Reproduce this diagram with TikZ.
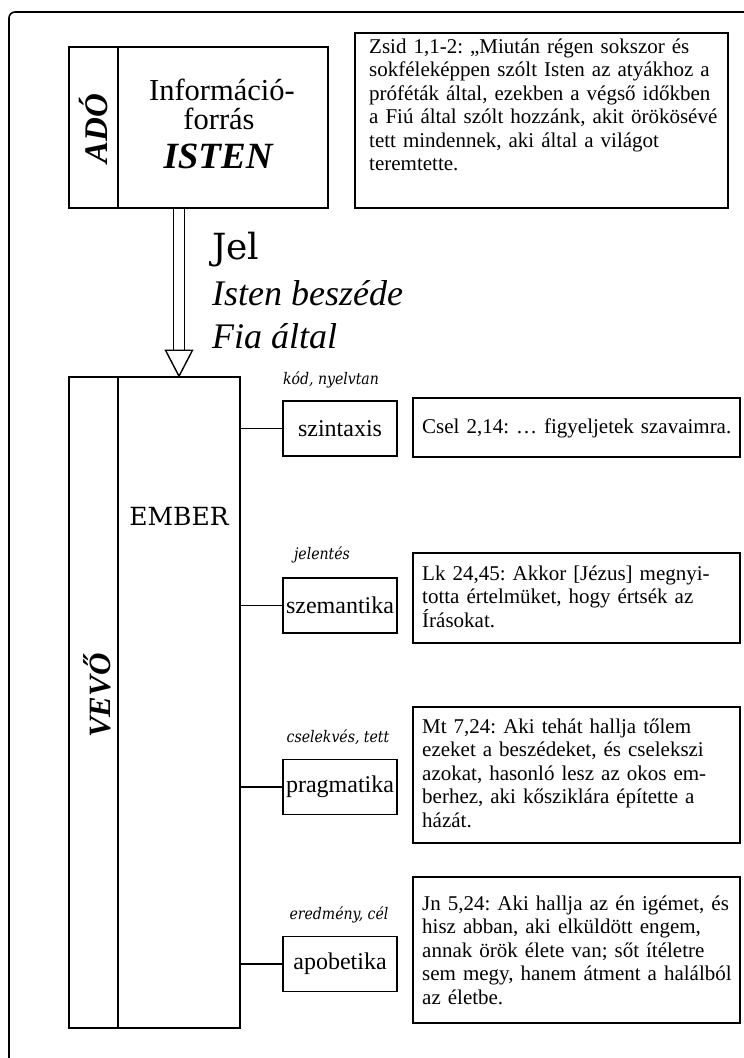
\documentclass[tikz,border=0pt]{standalone}
\usepackage{fontspec}
\setmainfont{Liberation Serif}
\newfontfamily\schoolfont{DejaVu Serif}
\newfontfamily\tagfont[FakeStretch=0.88]{DejaVu Serif}
\newcommand\qstrut{\rule{0pt}{16pt}}
\newcommand\fullline[1]{\makebox[305pt][s]{#1}}
\frenchspacing
\begin{document}
\frenchspacing
\begin{tikzpicture}[x=1pt,y=-1pt,
  box/.style={draw, line width=1.6pt, rectangle, inner sep=0pt},
  wire/.style={draw, line width=1.6pt},
  term/.style={box, minimum width=114pt, minimum height=55pt,
    font=\fontsize{24}{26}\selectfont},
  qtext/.style={anchor=north west, inner sep=0pt, align=left, text width=#1,
    font=\fontsize{21}{23.5}\selectfont},
  tag/.style={inner sep=0pt, font=\tagfont\itshape\fontsize{16}{18}\selectfont},
  side/.style={inner sep=0pt, rotate=90, font=\bfseries\itshape\fontsize{#1}{#1}\selectfont},
  big/.style={inner sep=0pt, anchor=base west, font=\fontsize{#1}{#1}\selectfont}
]
\useasboundingbox (0,0) rectangle (744,1058);

% page frame (top and left edges)
\draw[line width=1.6pt, rounded corners=6pt] (9,1058) -- (9,12) -- (744,12);

% sender block
\node[box, minimum width=49pt, minimum height=161pt] (adolbl) at (93.5,127.5) {};
\node[box, minimum width=210pt, minimum height=161pt] (adomain) at (223,127.5) {};
\node[side=33] (adotxt) at (94,128.5) {ADÓ};
\node[inner sep=0pt, anchor=base, font=\fontsize{30.5}{31}\selectfont] (info1) at (222,100) {Információ-};
\node[inner sep=0pt, anchor=base, font=\fontsize{30.5}{31}\selectfont] (info2) at (219,129) {forrás};
\node[inner sep=0pt, anchor=base, font=\bfseries\itshape\fontsize{37}{37}\selectfont] (isten) at (218,168) {ISTEN};

% quotation: Zsid
\node[box, minimum width=373pt, minimum height=175pt] (zsid) at (541.5,120.5) {};
\node[qtext=355pt] (zsidtxt) at (369,37) {\qstrut Zsid 1,1-2: „Miután régen sokszor és\\
sokféleképpen szólt Isten az atyákhoz a\\
próféták által, ezekben a végső időkben\\
a Fiú által szólt hozzánk, akit örökösévé\\
tett mindennek, aki által a világot\\
teremtette.};

% receiver block
\node[box, minimum width=49pt, minimum height=651pt] (vevolbl) at (93.5,702.5) {};
\node[box, minimum width=122pt, minimum height=651pt] (ember) at (179,702.5) {};
\node[side=31] (vevotxt) at (97,695.5) {VEVŐ};
\node[inner sep=0pt, font=\schoolfont\fontsize{25}{26}\selectfont] (embertxt) at (179,516) {EMBER};

% signal: double shaft with open head
\draw[line width=1.3pt, double=white, double distance=9.4pt]
  (adomain.south -| ember.north) -- ([yshift=26pt]ember.north);
\draw[line width=1.4pt, fill=white, line join=miter]
  ([xshift=-13.5pt,yshift=26pt]ember.north) -- ([xshift=13.5pt,yshift=26pt]ember.north)
  -- (ember.north) -- cycle;
\node[big=36, font=\schoolfont\fontsize{36}{36}\selectfont] (jel) at (212,259) {Jel};
\node[big=36, font=\itshape\fontsize{36}{36}\selectfont] (sig1) at (212,305) {Isten beszéde};
\node[big=36, font=\itshape\fontsize{36}{36}\selectfont] (sig2) at (212,348) {Fia által};

% levels of information
\node[term] (szin) at (340,428.5) {szintaxis};
\node[term] (szem) at (340,605.5) {szemantika};
\node[term] (prag) at (340,787) {pragmatika};
\node[term] (apo) at (340,964) {apobetika};

\node[tag] (szinlbl) at (331,380) {kód, nyelvtan};
\node[tag] (szemlbl) at (322,555) {jelentés};
\node[tag] (praglbl) at (338,737) {cselekvés, tett};
\node[tag] (apolbl) at (339,915) {eredmény, cél};

\draw[wire] (ember.east |- szin.west) -- (szin.west);
\draw[wire] (ember.east |- szem.west) -- (szem.west);
\draw[wire] (ember.east |- prag.west) -- (prag.west);
\draw[wire] (ember.east |- apo.west) -- (apo.west);

% scripture quotations
\node[box, minimum width=327pt, minimum height=59pt] (csel) at (576.5,427.5) {};
\node[qtext=315pt] (cseltxt) at (422,417) {\qstrut Csel 2,14: … figyeljetek szavaimra.};

\node[box, minimum width=327pt, minimum height=90pt] (lk) at (576.5,598) {};
\node[qtext=315pt] (lktxt) at (422,564) {\qstrut Lk 24,45: Akkor [Jézus] megnyi-\\
totta értelmüket, hogy értsék az\\
Írásokat.};

\node[box, minimum width=327pt, minimum height=136pt] (mt) at (576.5,775) {};
\node[qtext=315pt] (mttxt) at (422,717) {\qstrut Mt 7,24: Aki tehát hallja tőlem\\
ezeket a beszédeket, és cselekszi\\
azokat, hasonló lesz az okos em-\\
berhez, aki kősziklára építette a\\
házát.};

\node[box, minimum width=327pt, minimum height=146pt] (jn) at (576.5,950) {};
\node[qtext=315pt] (jntxt) at (422,894) {\qstrut\fullline{Jn 5,24: Aki hallja az én igémet, és}\\
\fullline{hisz abban, aki elküldött engem,}\\
\fullline{annak örök élete van; sőt ítéletre}\\
\fullline{sem megy, hanem átment a halálból}\\
az életbe.};
\end{tikzpicture}
\end{document}
